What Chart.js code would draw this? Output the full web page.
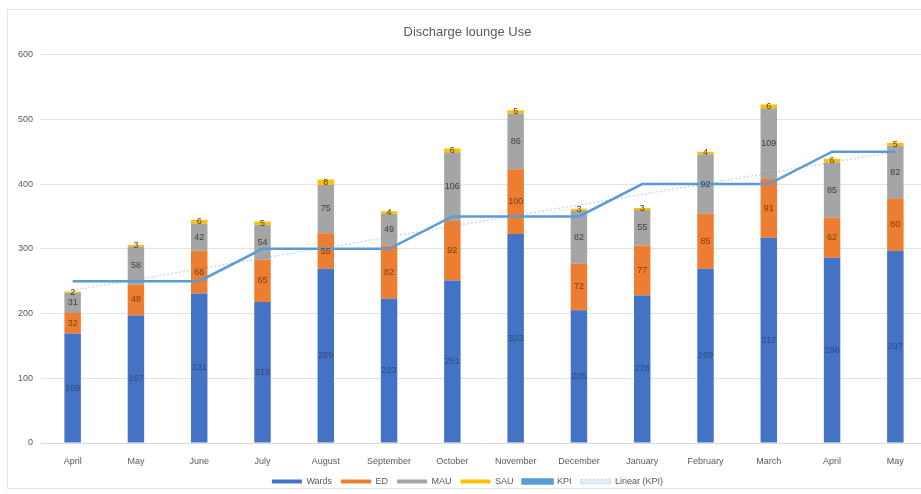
<!DOCTYPE html>
<html lang="en">
<head>
    <meta charset="UTF-8">
    <title>Discharge lounge Use</title>
    <script src="https://cdn.jsdelivr.net/npm/chart.js"></script>
    <style>
        html, body { margin: 0; padding: 0; overflow: hidden; background: #fff; }
        #wrap { position: absolute; left: 0; top: 0; width: 928px; height: 494px; }
        #frame { position: absolute; left: 7px; top: 9px; width: 940px; height: 478px; border: 1px solid #e4e4e4; }
    </style>
</head>
<body>
    <div id="frame"></div>
    <div id="wrap"><canvas id="lounge" width="928" height="494"></canvas></div>

    <script>
        const months = ['April', 'May', 'June', 'July', 'August', 'September', 'October',
            'November', 'December', 'January', 'February', 'March', 'April', 'May'];

        // patients through the lounge, by source
        const wards = [169, 197, 231, 218, 269, 223, 251, 323, 205, 228, 269, 317, 286, 297];
        const ed    = [32, 48, 66, 65, 55, 82, 92, 100, 72, 77, 85, 91, 62, 80];
        const mau   = [31, 58, 42, 54, 75, 49, 106, 86, 82, 55, 92, 109, 85, 82];
        const sau   = [2, 3, 6, 5, 8, 4, 6, 5, 3, 3, 4, 6, 6, 5];

        // target line and its trend (two ends only)
        const kpi = [250, 250, 250, 300, 300, 300, 350, 350, 350, 400, 400, 400, 450, 450];
        const kpiTrend = [236, null, null, null, null, null, null, null, null, null, null, null, null, 450];

        const FONT = "'Liberation Sans', 'DejaVu Sans', sans-serif";

        // value labels in the middle of each bar segment
        const segmentLabels = {
            id: 'segmentLabels',
            afterDatasetsDraw(chart) {
                const ctx = chart.ctx;
                ctx.save();
                ctx.font = '9px ' + FONT;
                ctx.textAlign = 'center';
                ctx.textBaseline = 'middle';
                chart.data.datasets.forEach((ds, i) => {
                    if (ds.type !== 'bar') return;
                    const meta = chart.getDatasetMeta(i);
                    meta.data.forEach((bar, j) => {
                        const v = ds.data[j];
                        if (!v) return;
                        ctx.fillStyle = ds.labelColor;
                        ctx.fillText(v, bar.x, (bar.y + bar.base) / 2);
                    });
                });
                ctx.restore();
            }
        };

        const barCommon = { type: 'bar', stack: 'src', order: 2, barPercentage: 0.26, categoryPercentage: 1 };

        new Chart(document.getElementById('lounge'), {
            data: {
                labels: months,
                datasets: [
                    { ...barCommon, label: 'Wards', data: wards, backgroundColor: '#4472C4', labelColor: '#2c4a80' },
                    { ...barCommon, label: 'ED', data: ed, backgroundColor: '#ED7D31', labelColor: '#7a3d12' },
                    { ...barCommon, label: 'MAU', data: mau, backgroundColor: '#A5A5A5', labelColor: '#404040' },
                    { ...barCommon, label: 'SAU', data: sau, backgroundColor: '#FFC000', labelColor: '#5a4400' },
                    {
                        type: 'line', label: 'KPI', data: kpi, stack: 'kpi', order: 1,
                        borderColor: '#5B9BD5', backgroundColor: '#5B9BD5', borderWidth: 2.5,
                        pointRadius: 0, tension: 0
                    },
                    {
                        type: 'line', label: 'Linear (KPI)', data: kpiTrend, stack: 'trend', order: 0,
                        borderColor: 'rgba(91,155,213,0.35)', backgroundColor: 'rgba(91,155,213,0.15)',
                        borderWidth: 1.5, borderDash: [2, 2], spanGaps: true, pointRadius: 0
                    }
                ]
            },
            options: {
                responsive: false,
                animation: false,
                layout: { padding: { left: 8, right: 1, top: 10, bottom: -2 } },
                plugins: {
                    title: {
                        display: true,
                        text: 'Discharge lounge Use',
                        color: '#595959',
                        font: { family: FONT, size: 13, weight: 'normal' },
                        padding: { top: 15, bottom: 14 }
                    },
                    legend: {
                        position: 'bottom',
                        labels: {
                            color: '#595959',
                            font: { family: FONT, size: 9 },
                            boxWidth: 30,
                            boxHeight: 4,
                            padding: 9,
                            sort: (a, b) => a.datasetIndex - b.datasetIndex
                        }
                    },
                    tooltip: { enabled: false }
                },
                scales: {
                    x: {
                        stacked: true,
                        afterFit: (scale) => { scale.height = 25; },
                        grid: { display: false, drawTicks: false },
                        border: { color: '#d9d9d9' },
                        ticks: { color: '#595959', font: { family: FONT, size: 9 }, padding: 13, maxRotation: 0 }
                    },
                    y: {
                        stacked: true,
                        min: 0,
                        max: 600,
                        afterFit: (scale) => { scale.width = 33; },
                        grid: { color: '#e3e3e3', drawTicks: false },
                        border: { display: false },
                        ticks: { stepSize: 100, color: '#595959', font: { family: FONT, size: 9 }, padding: 8 }
                    }
                }
            },
            plugins: [segmentLabels]
        });
    </script>
</body>
</html>
